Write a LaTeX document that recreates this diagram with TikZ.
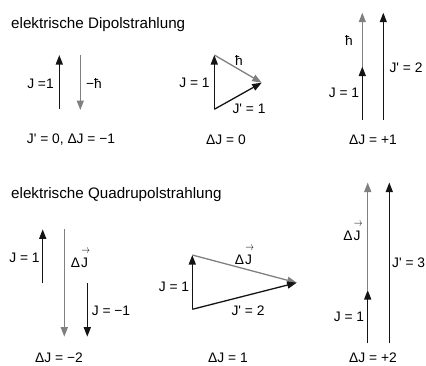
\documentclass[tikz,border=0pt]{standalone}
\usepackage{fontspec}
\usetikzlibrary{arrows.meta}
\newfontfamily\labfont{Liberation Sans}
\newcommand{\vJ}{\makebox[0pt][l]{\raisebox{1.0em}[0pt][0pt]{\hspace{0.02em}\scalebox{0.6}[0.8]{$\rightarrow$}}}J}
\definecolor{arrgray}{gray}{0.5}
\definecolor{arrblack}{gray}{0.08}
\tikzset{
  blk/.style={line width=1.3pt, draw=arrblack, -{Triangle[length=9.5pt,width=7pt]}},
  gry/.style={line width=1.3pt, draw=arrgray, -{Triangle[length=9.5pt,width=7pt]}},
  lbl/.style={inner sep=0pt, font=\labfont\fontsize{13.8}{16}\selectfont},
  ttl/.style={inner sep=0pt, anchor=base west, font=\labfont\fontsize{15.2}{18}\selectfont},
}
\begin{document}
\begin{tikzpicture}[x=1pt,y=-1pt]
\useasboundingbox (0,0) rectangle (426,365);
% titles
\node[ttl] (t1) at (11,28.3) {elektrische Dipolstrahlung};
\node[ttl] (t2) at (11,198.3) {elektrische Quadrupolstrahlung};

% ---- Dipole group 1
\coordinate (a1b) at (59.3,109);
\coordinate (a1t) at (59.3,55);
\coordinate (g1t) at (80.3,55);
\coordinate (g1b) at (80.3,110);
\draw[blk] (a1b) -- (a1t);
\draw[gry] (g1t) -- (g1b);
\node[lbl] (l1a) at (40.5,84) {J =1};
\node[lbl] (l1b) at (94,83) {−ħ};
\node[lbl] (l1c) at (71,139.5) {J' = 0, ΔJ = −1};

% ---- Dipole group 2
\coordinate (b2b) at (214.3,109.3);
\coordinate (b2t) at (214.3,55);
\coordinate (b2r) at (261.7,82.7);
\draw[blk] (b2b) -- (b2t);
\draw[gry] (b2t) -- (b2r);
\draw[blk] (b2b) -- (b2r);
\node[lbl] (l2a) at (194.5,83.3) {J = 1};
\node[lbl] (l2b) at (239,60) {ħ};
\node[lbl] (l2c) at (249,109) {J' = 1};
\node[lbl] (l2d) at (226,139.5) {ΔJ = 0};

% ---- Dipole group 3
\coordinate (c3b) at (362.3,120);
\coordinate (c3m) at (362.3,66.5);
\coordinate (c3t) at (362.3,12.7);
\coordinate (c3lb) at (383.3,120);
\coordinate (c3lt) at (383.3,12.7);
\draw[gry] (c3m) -- (c3t);
\draw[blk] (c3b) -- (c3m);
\draw[blk] (c3lb) -- (c3lt);
\node[lbl] (l3a) at (349,40) {ħ};
\node[lbl] (l3b) at (344,92.5) {J = 1};
\node[lbl] (l3c) at (406,68) {J' = 2};
\node[lbl] (l3d) at (373,139.5) {ΔJ = +1};

% ---- Quadrupole group 1
\coordinate (d1b) at (42.7,283.3);
\coordinate (d1t) at (42.7,229.3);
\coordinate (d2t) at (64.3,229.3);
\coordinate (d2b) at (64.3,336.7);
\coordinate (d3t) at (87.3,283.3);
\coordinate (d3b) at (87.3,336.7);
\draw[blk] (d1b) -- (d1t);
\draw[gry] (d2t) -- (d2b);
\draw[blk] (d3t) -- (d3b);
\node[lbl] (m1a) at (24.5,258) {J = 1};
\node[lbl, anchor=base] (m1b) at (79.5,267) {Δ\kern1pt\vJ};
\node[lbl] (m1c) at (111,311) {J = −1};
\node[lbl] (m1d) at (59,357.5) {ΔJ = −2};

% ---- Quadrupole group 2
\coordinate (e2b) at (192.3,309.3);
\coordinate (e2t) at (192.3,255);
\coordinate (e2r) at (296.7,282.7);
\draw[blk] (e2b) -- (e2t);
\draw[gry] (e2t) -- (e2r);
\draw[blk] (e2b) -- (e2r);
\node[lbl] (m2a) at (174,287) {J = 1};
\node[lbl, anchor=base] (m2b) at (243.5,264) {Δ\kern1pt\vJ};
\node[lbl] (m2c) at (248,311) {J' = 2};
\node[lbl] (m2d) at (228,357.5) {ΔJ = 1};

% ---- Quadrupole group 3
\coordinate (f3b) at (367.7,343.3);
\coordinate (f3m) at (367.7,290);
\coordinate (f3t) at (367.7,182.5);
\coordinate (f3lb) at (389.3,343.3);
\coordinate (f3lt) at (389.3,182.5);
\draw[gry] (f3m) -- (f3t);
\draw[blk] (f3b) -- (f3m);
\draw[blk] (f3lb) -- (f3lt);
\node[lbl, anchor=base] (m3a) at (352,240) {Δ\kern1pt\vJ};
\node[lbl] (m3b) at (349,317) {J = 1};
\node[lbl, anchor=west] (m3c) at (392,263) {J' = 3};
\node[lbl] (m3d) at (373,357.5) {ΔJ = +2};
\end{tikzpicture}
\end{document}
